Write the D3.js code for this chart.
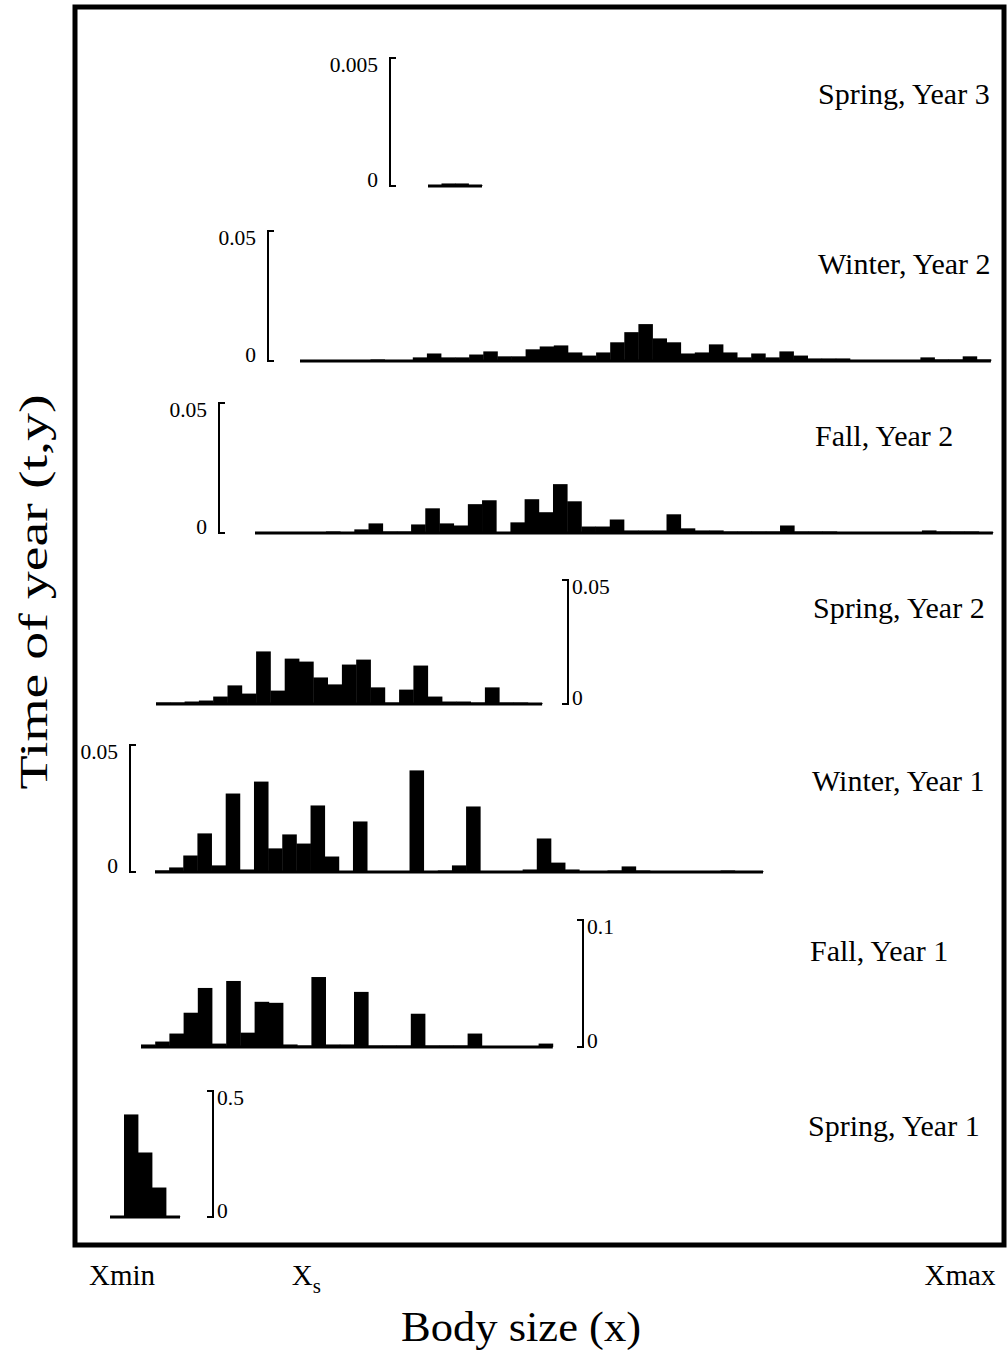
<!doctype html>
<html lang="en">
<head>
  <meta charset="utf-8">
  <title>Body size distributions through the year</title>
  <script src="https://cdn.jsdelivr.net/npm/d3@7"></script>
  <style>
    body { margin:0; background:#fff; }
    text { font-family:"Liberation Serif","DejaVu Serif",serif; fill:#000; }
  </style>
</head>
<body>
<div id="chart"></div>
<script>
  // proportion of individuals per body-size bin, one array per season
  var seasons = ["Spring, Year 1", "Fall, Year 1", "Winter, Year 1", "Spring, Year 2",
                 "Fall, Year 2", "Winter, Year 2", "Spring, Year 3"];
  var scaleMax = [0.5, 0.1, 0.05, 0.05, 0.05, 0.05, 0.005];
  var scaleLabels = ["0.5", "0.1", "0.05", "0.05", "0.05", "0.05", "0.005"];

  var springYear1 = [0, 0.405, 0.254, 0.115, 0];
  var fallYear1 = [0.0016,0.0039,0.0102,0.0266,0.0461,0.0023,0.0516,0.0109,0.0352,0.0344,
                   0.0016,0.0008,0.0547,0.0016,0.0016,0.0430,0.0008,0.0008,0.0008,0.0258,
                   0.0008,0.0008,0.0008,0.0102,0.0004,0.0004,0.0004,0.0004,0.0023];
  var winterYear1 = [0.0004,0.0016,0.0063,0.0150,0.0024,0.0307,0.0008,0.0354,0.0091,0.0146,
                     0.0110,0.0260,0.0059,0,0.0197,0,0,0,0.0398,0.0002,
                     0.0004,0.0024,0.0256,0,0,0,0.0008,0.0130,0.0035,0.0008,
                     0.0002,0.0002,0.0004,0.0020,0.0004,0.0002,0.0002,0.0002,0.0002,0.0002,
                     0.0004,0.0002,0.0002];
  var springYear2 = [0.0004,0.0004,0.0008,0.0012,0.0028,0.0073,0.0040,0.0210,0.0052,0.0181,
                     0.0169,0.0105,0.0077,0.0157,0.0177,0.0065,0.0004,0.0056,0.0153,0.0028,
                     0.0008,0.0008,0.0004,0.0065,0.0004,0.0004,0.0002];
  var fallYear2 = [0.0002,0.0002,0.0002,0.0002,0.0002,0.0004,0.0002,0.0012,0.0035,0.0004,
                   0.0004,0.0031,0.0093,0.0035,0.0027,0.0109,0.0124,0.0002,0.0039,0.0128,
                   0.0078,0.0186,0.0120,0.0023,0.0023,0.0050,0.0008,0.0008,0.0008,0.0070,
                   0.0016,0.0008,0.0008,0.0004,0.0004,0.0004,0.0004,0.0027,0.0004,0.0004,
                   0.0004,0.0002,0.0002,0.0002,0.0002,0.0002,0.0002,0.0008,0.0004,0.0004,
                   0.0004,0.0002];
  var winterYear2 = [0.0002,0.0002,0.0002,0.0002,0.0002,0.0004,0.0002,0.0002,0.0012,0.0027,
                     0.0012,0.0012,0.0023,0.0035,0.0016,0.0016,0.0043,0.0054,0.0058,0.0031,
                     0.0019,0.0031,0.0070,0.0109,0.0140,0.0085,0.0070,0.0027,0.0031,0.0062,
                     0.0031,0.0012,0.0027,0.0012,0.0035,0.0019,0.0008,0.0008,0.0008,0.0002,
                     0.0002,0.0002,0.0002,0.0002,0.0012,0.0004,0.0004,0.0016,0.0004];
  var springYear3 = [0.00002, 0.00008, 0.00008, 0.00002];

  var series = [springYear1, fallYear1, winterYear1, springYear2, fallYear2, winterYear2, springYear3];

  // body-size axis marks (fraction of the size range)
  var sizeTicks = ["Xmin", "Xs", "Xmax"];
  var sizeTickValues = [0, 0.22, 1];

  // where each season's strip sits on the page (oblique stacking)
  var layout = [
    {x0:110, w:14.0,  base:1217, top:1091, bx:213, side:"right", lx:808, ly:1136},
    {x0:141, w:14.2,  base:1047, top:920,  bx:583, side:"right", lx:810, ly:961},
    {x0:155, w:14.14, base:872,  top:745,  bx:130, side:"left",  lx:812, ly:791},
    {x0:156, w:14.3,  base:704,  top:580,  bx:568, side:"right", lx:813, ly:618},
    {x0:255, w:14.19, base:533,  top:403,  bx:219, side:"left",  lx:815, ly:446},
    {x0:300, w:14.1,  base:361,  top:231,  bx:268, side:"left",  lx:818, ly:274},
    {x0:428, w:13.5,  base:186,  top:58,   bx:390, side:"left",  lx:818, ly:104}
  ];

  var width = 1008, height = 1355;

  var svg = d3.select("#chart")
    .append("svg")
    .attr("width", width)
    .attr("height", height);

  // frame
  svg.append("rect")
    .attr("x", 75).attr("y", 7)
    .attr("width", 929).attr("height", 1238)
    .attr("fill", "none")
    .attr("stroke", "#000")
    .attr("stroke-width", 5);

  series.forEach(function(vals, k) {
    var L = layout[k];
    var g = svg.append("g").attr("class", "season");

    var x = d3.scaleLinear()
      .domain([0, vals.length])
      .range([L.x0, L.x0 + vals.length * L.w]);
    var y = d3.scaleLinear()
      .domain([0, scaleMax[k]])
      .range([L.base, L.top]);

    // bars
    g.selectAll("rect.bin")
      .data(vals)
      .enter().append("rect")
      .attr("class", "bin")
      .attr("x", function(d, i) { return x(i); })
      .attr("width", L.w + 0.4)
      .attr("y", function(d) { return y(d) - 0.5; })
      .attr("height", function(d) { return L.base - y(d) + 0.5; })
      .attr("fill", "#000");

    // baseline
    g.append("line")
      .attr("x1", x(0)).attr("x2", x(vals.length))
      .attr("y1", y(0)).attr("y2", y(0))
      .attr("stroke", "#000")
      .attr("stroke-width", 3);

    // scale bracket
    var t = L.side === "left" ? 6 : -6;
    var yTop = y(scaleMax[k]), yBot = y(0);
    g.append("path")
      .attr("d", "M" + (L.bx + t) + "," + yTop + "H" + L.bx + "V" + yBot + "H" + (L.bx + t))
      .attr("fill", "none")
      .attr("stroke", "#000")
      .attr("stroke-width", 2);

    var tx = L.side === "left" ? L.bx - 12 : L.bx + 4;
    var anchor = L.side === "left" ? "end" : "start";
    g.append("text")
      .attr("x", tx).attr("y", yTop + 14)
      .attr("text-anchor", anchor)
      .attr("font-size", 21.5)
      .text(scaleLabels[k]);
    g.append("text")
      .attr("x", tx).attr("y", yBot + 1)
      .attr("text-anchor", anchor)
      .attr("font-size", 21.5)
      .text("0");

    // season label
    g.append("text")
      .attr("x", L.lx).attr("y", L.ly)
      .attr("font-size", 30)
      .text(seasons[k]);
  });

  // body-size axis labels under the frame
  var sx = d3.scaleLinear().domain([0, 1]).range([122, 960]);
  sizeTicks.forEach(function(lab, i) {
    var tEl = svg.append("text")
      .attr("x", sx(sizeTickValues[i]))
      .attr("y", 1285)
      .attr("text-anchor", "middle")
      .attr("font-size", 29);
    if (lab === "Xs") {
      tEl.append("tspan").text("X");
      tEl.append("tspan").attr("dy", 8).attr("font-size", 21).text("s");
    } else {
      tEl.text(lab);
    }
  });

  svg.append("text")
    .attr("x", 521).attr("y", 1341)
    .attr("text-anchor", "middle")
    .attr("font-size", 42)
    .attr("textLength", 240)
    .attr("lengthAdjust", "spacingAndGlyphs")
    .text("Body size (x)");

  svg.append("text")
    .attr("transform", "translate(47,592) rotate(-90)")
    .attr("text-anchor", "middle")
    .attr("font-size", 40)
    .attr("textLength", 395)
    .attr("lengthAdjust", "spacingAndGlyphs")
    .text("Time of year (t,y)");
</script>
</body>
</html>
